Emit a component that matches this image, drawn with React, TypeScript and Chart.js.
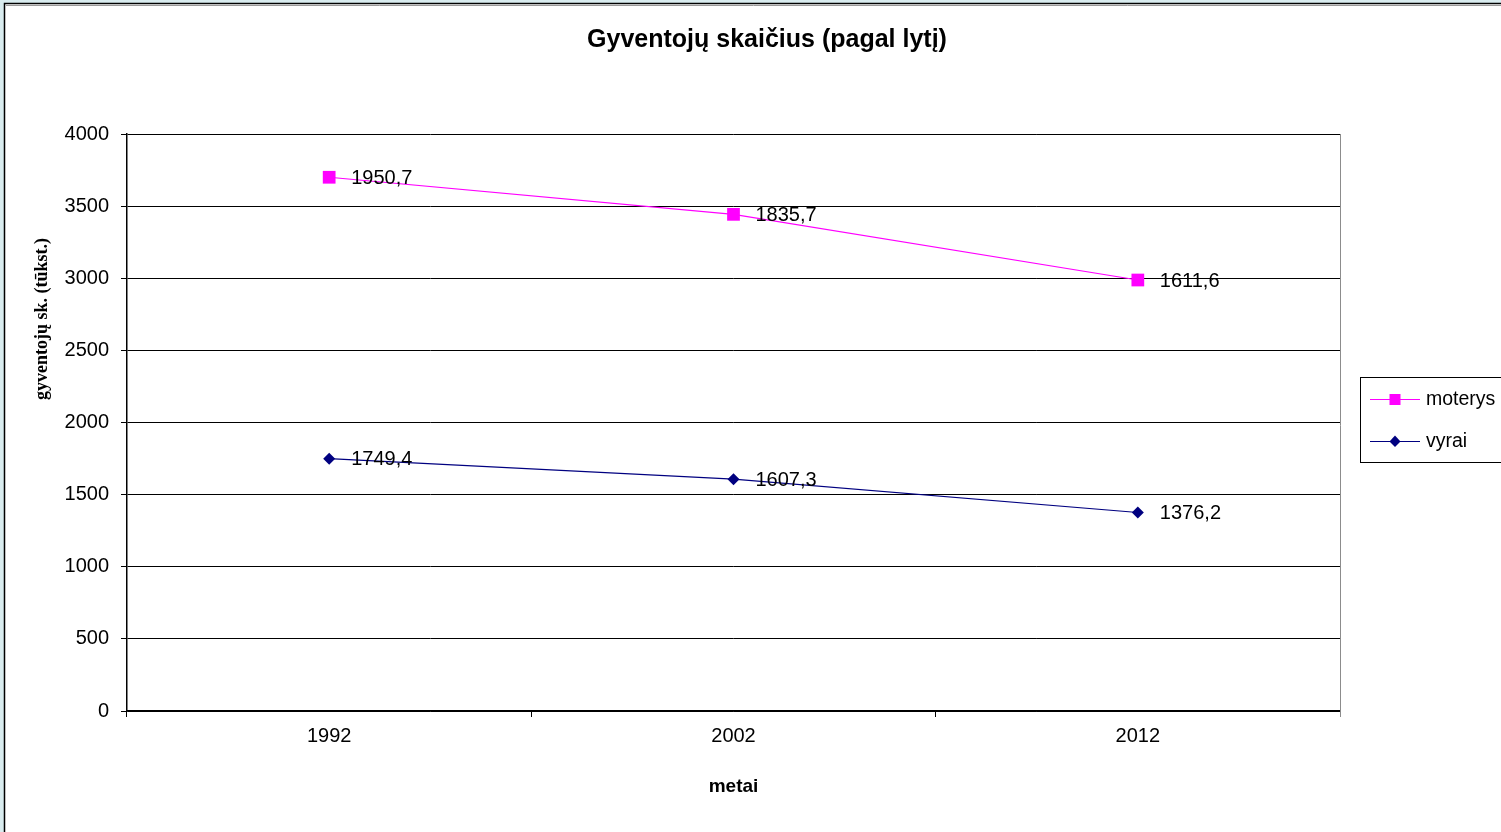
import React, { useEffect, useRef } from "react";
import { Chart, registerables } from "chart.js";

Chart.register(...registerables);

const categories = ["1992", "2002", "2012"];
const vyrai = [1749.4, 1607.3, 1376.2];
const moterys = [1950.7, 1835.7, 1611.6];
const seriesNames = { vyrai: "vyrai", moterys: "moterys" };
const chartTitle = "Gyventojų skaičius (pagal lytį)";
const yTitle = "gyventojų sk. (tūkst.)";
const xTitle = "metai";
const yMin = 0;
const yMax = 4000;
const yStep = 500;

const SANS = "'Liberation Sans', Arial, sans-serif";
const SERIF = "'Liberation Serif', 'Times New Roman', serif";

const fmt = (v: number) => v.toFixed(1).replace(".", ",");

const framePlugin = {
  id: "frame",
  beforeDraw(chart: any) {
    const { ctx, width, height } = chart;
    ctx.save();
    ctx.fillStyle = "#d9ecef";
    ctx.fillRect(0, 0, width, height);
    ctx.fillStyle = "#ffffff";
    ctx.fillRect(4, 3, width - 4, height - 3);
    ctx.strokeStyle = "#000000";
    ctx.lineWidth = 1.5;
    ctx.beginPath();
    ctx.moveTo(4.5, height);
    ctx.lineTo(4.5, 3.5);
    ctx.lineTo(width, 3.5);
    ctx.stroke();
    ctx.strokeStyle = "#9a9a9a";
    ctx.lineWidth = 1;
    ctx.beginPath();
    ctx.moveTo(6, 5.5);
    ctx.lineTo(width, 5.5);
    ctx.stroke();
    ctx.restore();
  },
  beforeDatasetsDraw(chart: any) {
    const { ctx, chartArea } = chart;
    ctx.save();
    ctx.strokeStyle = "#8c8c8c";
    ctx.lineWidth = 1;
    const x = Math.round(chartArea.right) + 0.5;
    ctx.beginPath();
    ctx.moveTo(x, chartArea.top);
    ctx.lineTo(x, chartArea.bottom + 6);
    ctx.stroke();
    ctx.restore();
  },
  afterDraw(chart: any) {
    const { ctx } = chart;
    ctx.save();
    ctx.fillStyle = "#000";
    ctx.font = `bold 25px ${SANS}`;
    ctx.textAlign = "center";
    ctx.textBaseline = "middle";
    ctx.fillText(chartTitle, 767, 40);
    ctx.translate(42, 319);
    ctx.rotate(-Math.PI / 2);
    ctx.font = `bold 18px ${SERIF}`;
    ctx.fillText(yTitle, 0, 0);
    ctx.restore();
  },
};

const labelsPlugin = {
  id: "valueLabels",
  afterDatasetsDraw(chart: any) {
    const { ctx } = chart;
    ctx.save();
    ctx.font = `20px ${SANS}`;
    ctx.fillStyle = "#000";
    ctx.textAlign = "left";
    ctx.textBaseline = "middle";
    chart.data.datasets.forEach((ds: any, i: number) => {
      const meta = chart.getDatasetMeta(i);
      meta.data.forEach((pt: any, j: number) => {
        ctx.fillText(fmt(ds.data[j]), pt.x + 22, pt.y + 1);
      });
    });
    ctx.restore();
  },
};

const legendPlugin = {
  id: "boxLegend",
  afterDraw(chart: any) {
    const { ctx } = chart;
    const x0 = 1360.5;
    const y0 = 377.5;
    const w = 145;
    const h = 85;
    ctx.save();
    ctx.fillStyle = "#fff";
    ctx.fillRect(x0, y0, w, h);
    ctx.strokeStyle = "#000";
    ctx.lineWidth = 1;
    ctx.strokeRect(x0, y0, w, h);
    const order = [...chart.data.datasets].reverse();
    order.forEach((ds: any, k: number) => {
      const y = 399 + k * 42;
      ctx.strokeStyle = ds.borderColor;
      ctx.lineWidth = 1;
      ctx.beginPath();
      ctx.moveTo(1370, y + 0.5);
      ctx.lineTo(1420, y + 0.5);
      ctx.stroke();
      ctx.fillStyle = ds.pointBackgroundColor;
      ctx.beginPath();
      if (ds.pointStyle === "rect") {
        ctx.rect(1395 - 5.5, y - 5, 11, 11);
      } else {
        ctx.moveTo(1395, y - 5.5);
        ctx.lineTo(1400.5, y + 0.5);
        ctx.lineTo(1395, y + 6);
        ctx.lineTo(1389.5, y + 0.5);
        ctx.closePath();
      }
      ctx.fill();
      ctx.fillStyle = "#000";
      ctx.font = `19.5px ${SANS}`;
      ctx.textAlign = "left";
      ctx.textBaseline = "middle";
      ctx.fillText(ds.label, 1426, y + 1);
    });
    ctx.restore();
  },
};

export default function App() {
  const ref = useRef<HTMLCanvasElement | null>(null);
  useEffect(() => {
    document.body.style.margin = "0";
    const canvas = ref.current!;
    const chart = new Chart(canvas, {
      type: "line",
      data: {
        labels: categories,
        datasets: [
          {
            label: seriesNames.vyrai,
            data: vyrai,
            borderColor: "#000080",
            backgroundColor: "#000080",
            pointBackgroundColor: "#000080",
            pointBorderColor: "#000080",
            pointStyle: "rectRot",
            pointRadius: 6,
            pointBorderWidth: 0,
            borderWidth: 1.2,
            fill: false,
            tension: 0,
          },
          {
            label: seriesNames.moterys,
            data: moterys,
            borderColor: "#ff00ff",
            backgroundColor: "#ff00ff",
            pointBackgroundColor: "#ff00ff",
            pointBorderColor: "#ff00ff",
            pointStyle: "rect",
            pointRadius: 9,
            pointBorderWidth: 0,
            borderWidth: 1.2,
            fill: false,
            tension: 0,
          },
        ],
      },
      options: {
        responsive: false,
        animation: false,
        devicePixelRatio: 1,
        layout: { padding: { top: 134, right: 161, bottom: 0, left: 0 } },
        plugins: {
          legend: { display: false },
          title: { display: false },
          tooltip: { enabled: false },
        },
        scales: {
          x: {
            offset: true,
            border: { display: true, color: "#000", width: 1.5 },
            grid: {
              offset: true,
              drawOnChartArea: false,
              drawTicks: true,
              tickLength: 6,
              tickColor: "#000",
              lineWidth: 1,
            },
            ticks: {
              color: "#000",
              font: { family: SANS, size: 20 },
              padding: 7,
            },
            title: {
              display: true,
              text: xTitle,
              color: "#000",
              font: { family: SANS, size: 19, weight: "bold" },
              padding: { top: 0, bottom: 34 },
            },
            afterFit: (s: any) => {
              s.height = 121;
            },
          },
          y: {
            stacked: true,
            min: yMin,
            max: yMax,
            border: { display: true, color: "#000", width: 1.5 },
            grid: {
              color: "#000",
              lineWidth: 1,
              tickLength: 6,
              tickColor: "#000",
            },
            ticks: {
              stepSize: yStep,
              color: "#000",
              font: { family: SANS, size: 20 },
              padding: 12,
              callback: (v: any) => String(v),
            },
            afterFit: (s: any) => {
              s.width = 127;
            },
          },
        },
      },
      plugins: [framePlugin, labelsPlugin, legendPlugin],
    });
    return () => chart.destroy();
  }, []);
  return <canvas ref={ref} width={1501} height={832} style={{ display: "block" }} />;
}
